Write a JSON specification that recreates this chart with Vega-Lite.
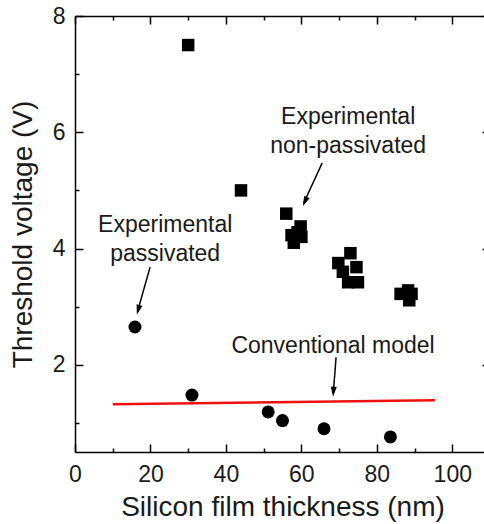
{
  "$schema": "https://vega.github.io/schema/vega-lite/v6.json",
  "autosize": "none",
  "padding": {"left": 75, "top": 16, "right": 0, "bottom": 72},
  "width": 415,
  "height": 436,
  "background": "white",
  "config": {
    "view": {"stroke": null},
    "font": "Liberation Sans",
    "axis": {
      "grid": false,
      "domainColor": "#000000",
      "domainWidth": 1.5,
      "tickColor": "#000000",
      "tickWidth": 1.5
    }
  },
  "datasets": {
    "squares": [
      {"x": 30, "y": 7.5},
      {"x": 44, "y": 5.0},
      {"x": 56, "y": 4.6},
      {"x": 59.8, "y": 4.38},
      {"x": 59, "y": 4.28},
      {"x": 57.4, "y": 4.23},
      {"x": 58, "y": 4.1},
      {"x": 60, "y": 4.2},
      {"x": 73, "y": 3.92},
      {"x": 69.8, "y": 3.75},
      {"x": 74.6, "y": 3.68},
      {"x": 71, "y": 3.6},
      {"x": 72.4, "y": 3.42},
      {"x": 75, "y": 3.42},
      {"x": 86.3, "y": 3.22},
      {"x": 88.3, "y": 3.28},
      {"x": 89.2, "y": 3.22},
      {"x": 88.6, "y": 3.11}
    ],
    "circles": [
      {"x": 15.9, "y": 2.65},
      {"x": 31, "y": 1.48},
      {"x": 51.2, "y": 1.19},
      {"x": 55, "y": 1.04},
      {"x": 66, "y": 0.9},
      {"x": 83.6, "y": 0.76}
    ],
    "model": [
      {"x": 10, "y": 1.32},
      {"x": 95.4, "y": 1.39}
    ],
    "arrows": [
      {"x": 65.5, "y": 5.47, "x2": 60.6, "y2": 4.78},
      {"x": 19.9, "y": 3.68, "x2": 16.6, "y2": 2.92},
      {"x": 69.2, "y": 2.13, "x2": 68.45, "y2": 1.5}
    ],
    "labels": [
      {"x": 72.4, "y": 6.14, "label": "Experimental\nnon-passivated"},
      {"x": 23.9, "y": 4.28, "label": "Experimental\npassivated"},
      {"x": 68.4, "y": 2.2, "label": "Conventional model"}
    ]
  },
  "resolve": {"axis": {"x": "independent", "y": "independent"}},
  "layer": [
    {
      "encoding": {
        "x": {
          "field": "x",
          "type": "quantitative",
          "scale": {"domain": [0, 110], "nice": false, "zero": false},
          "axis": {
            "orient": "bottom",
            "title": "Silicon film thickness (nm)",
            "values": [0, 10, 20, 30, 40, 50, 60, 70, 80, 90, 100, 110],
            "labelExpr": "datum.value % 20 === 0 ? datum.label : ''",
            "tickSize": {"condition": {"test": "datum.value % 20 === 0", "value": -8}, "value": -4},
            "labelPadding": 19,
            "titlePadding": 3,
            "labelFlush": false,
            "labelOverlap": false,
            "labelFont": "Liberation Sans",
            "labelFontSize": 23,
            "labelColor": "#1a1a1a",
            "titleFont": "Liberation Sans",
            "titleFontSize": 28,
            "titleFontWeight": "normal",
            "titleColor": "#1a1a1a"
          }
        },
        "y": {
          "field": "y",
          "type": "quantitative",
          "scale": {"domain": [0.5, 8], "nice": false, "zero": false},
          "axis": {
            "orient": "left",
            "title": "Threshold voltage (V)",
            "values": [1, 2, 3, 4, 5, 6, 7, 8],
            "labelExpr": "datum.value % 2 === 0 ? datum.label : ''",
            "tickSize": {"condition": {"test": "datum.value % 2 === 0", "value": -8}, "value": -4},
            "labelPadding": 18,
            "titlePadding": 15,
            "labelFlush": false,
            "labelOverlap": false,
            "labelFont": "Liberation Sans",
            "labelFontSize": 23,
            "labelColor": "#1a1a1a",
            "titleFont": "Liberation Sans",
            "titleFontSize": 28,
            "titleFontWeight": "normal",
            "titleColor": "#1a1a1a"
          }
        }
      },
      "layer": [
        {
          "data": {"name": "model"},
          "mark": {"type": "line", "color": "#ee1111", "strokeWidth": 2.5}
        },
        {
          "data": {"name": "arrows"},
          "mark": {"type": "rule", "color": "#000000", "strokeWidth": 1.5},
          "encoding": {
            "x2": {"field": "x2"},
            "y2": {"field": "y2"}
          }
        },
        {
          "data": {"values": [{"x": 60.4, "y": 4.73}]},
          "mark": {"type": "point", "shape": "M0,0L-0.6,2L0.6,2Z", "filled": true, "color": "#000000", "opacity": 1, "size": 100, "angle": 204}
        },
        {
          "data": {"values": [{"x": 16.4, "y": 2.86}]},
          "mark": {"type": "point", "shape": "M0,0L-0.6,2L0.6,2Z", "filled": true, "color": "#000000", "opacity": 1, "size": 100, "angle": 195}
        },
        {
          "data": {"values": [{"x": 68.4, "y": 1.45}]},
          "mark": {"type": "point", "shape": "M0,0L-0.6,2L0.6,2Z", "filled": true, "color": "#000000", "opacity": 1, "size": 100, "angle": 184}
        },
        {
          "data": {"name": "circles"},
          "mark": {"type": "point", "shape": "circle", "filled": true, "color": "#000000", "opacity": 1, "size": 169}
        },
        {
          "data": {"name": "squares"},
          "mark": {"type": "point", "shape": "square", "filled": true, "color": "#000000", "opacity": 1, "size": 156}
        },
        {
          "data": {"name": "labels"},
          "mark": {"type": "text", "align": "center", "baseline": "alphabetic", "fontSize": 23, "lineHeight": 29, "lineBreak": "\n", "color": "#1a1a1a", "font": "Liberation Sans"},
          "encoding": {"text": {"field": "label"}}
        }
      ]
    },
    {
      "data": {"name": "circles"},
      "mark": {"type": "point", "opacity": 0},
      "encoding": {
        "x": {
          "field": "x",
          "type": "quantitative",
          "scale": {"domain": [0, 110], "nice": false, "zero": false},
          "axis": {
            "orient": "top",
            "title": null,
            "labels": false,
            "values": [0, 10, 20, 30, 40, 50, 60, 70, 80, 90, 100, 110],
            "tickSize": {"condition": {"test": "datum.value % 20 === 0", "value": -8}, "value": -4}
          }
        },
        "y": {
          "field": "y",
          "type": "quantitative",
          "scale": {"domain": [0.5, 8], "nice": false, "zero": false},
          "axis": {
            "orient": "right",
            "title": null,
            "labels": false,
            "values": [1, 2, 3, 4, 5, 6, 7, 8],
            "tickSize": {"condition": {"test": "datum.value % 2 === 0", "value": -8}, "value": -4}
          }
        }
      }
    }
  ]
}
